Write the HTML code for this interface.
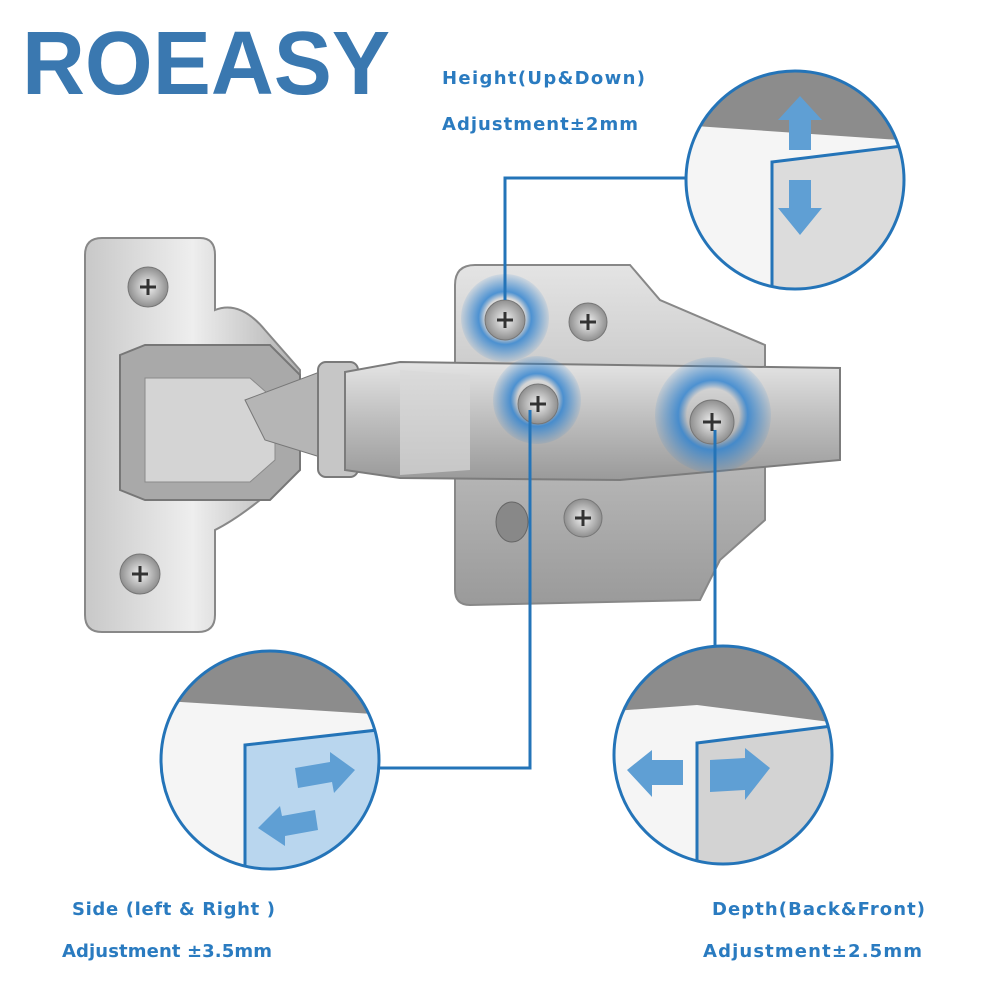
<!DOCTYPE html>
<html><head><meta charset="utf-8"><style>
body{margin:0;background:#fff;}
svg{display:block}
</style></head><body>
<svg width="1000" height="1000" viewBox="0 0 1000 1000" xmlns="http://www.w3.org/2000/svg">
<defs>
<clipPath id="c1"><circle cx="795" cy="180" r="109"/></clipPath>
<clipPath id="c2"><circle cx="270" cy="760" r="109"/></clipPath>
<clipPath id="c3"><circle cx="723" cy="755" r="109"/></clipPath>
<linearGradient id="m" x1="0" y1="0" x2="0" y2="1"><stop offset="0" stop-color="#e4e4e4"/><stop offset=".5" stop-color="#bdbdbd"/><stop offset="1" stop-color="#9a9a9a"/></linearGradient>
<linearGradient id="m2" x1="0" y1="0" x2="1" y2="0"><stop offset="0" stop-color="#c8c8c8"/><stop offset=".5" stop-color="#eeeeee"/><stop offset="1" stop-color="#b0b0b0"/></linearGradient>
<radialGradient id="sw"><stop offset=".45" stop-color="#1e70c0" stop-opacity="0"/><stop offset=".6" stop-color="#2a80d0" stop-opacity=".8"/><stop offset="1" stop-color="#2a80d0" stop-opacity=".1"/></radialGradient>
<radialGradient id="sc"><stop offset="0" stop-color="#f2f2f2"/><stop offset="1" stop-color="#8f8f8f"/></radialGradient>
</defs>
<text x="22" y="94" font-family="Liberation Sans,sans-serif" font-weight="bold" font-size="90" fill="#3a78b0" textLength="368" lengthAdjust="spacingAndGlyphs">ROEASY</text>
<g font-family="DejaVu Sans,sans-serif" font-weight="bold" font-size="18" fill="#2a7bc0" lengthAdjust="spacingAndGlyphs">
<text x="442" y="84" textLength="203">Height(Up&amp;Down)</text>
<text x="442" y="130" textLength="196">Adjustment±2mm</text>
<text x="72" y="915" textLength="203">Side (left &amp; Right )</text>
<text x="62" y="957" textLength="210">Adjustment ±3.5mm</text>
<text x="712" y="915" textLength="213">Depth(Back&amp;Front)</text>
<text x="703" y="957" textLength="219">Adjustment±2.5mm</text>
</g>
<path d="M85 255 Q85 238 102 238 L200 238 Q215 238 215 255 L215 310 Q240 300 265 330 L300 370 L300 470 L260 500 Q235 520 215 530 L215 615 Q215 632 198 632 L102 632 Q85 632 85 615 Z" fill="url(#m2)" stroke="#888" stroke-width="2"/>
<path d="M120 355 L145 345 L270 345 L300 375 L300 470 L270 500 L145 500 L120 490 Z" fill="#a9a9a9" stroke="#777" stroke-width="2"/>
<path d="M145 378 L250 378 L275 400 L275 460 L250 482 L145 482 Z" fill="#d4d4d4" stroke="#8a8a8a"/>
<path d="M245 400 L325 370 L330 460 L265 440 Z" fill="#b5b5b5" stroke="#777"/>
<rect x="318" y="362" width="40" height="115" rx="8" fill="#c6c6c6" stroke="#7a7a7a" stroke-width="2"/>
<path d="M455 285 Q455 265 475 265 L630 265 L660 300 L765 345 L765 520 L720 560 L700 600 L470 605 Q455 605 455 590 Z" fill="url(#m)" stroke="#888" stroke-width="2"/>
<path d="M345 372 L400 362 L840 368 L840 460 L620 480 L400 478 L345 470 Z" fill="url(#m)" stroke="#7c7c7c" stroke-width="2"/>
<path d="M400 370 L470 375 L470 470 L400 475 Z" fill="#d9d9d9" opacity=".7"/>
<circle cx="148" cy="287" r="20" fill="url(#sc)" stroke="#777"/>
<circle cx="140" cy="574" r="20" fill="url(#sc)" stroke="#777"/>
<circle cx="588" cy="322" r="19" fill="url(#sc)" stroke="#777"/>
<circle cx="583" cy="518" r="19" fill="url(#sc)" stroke="#777"/>
<ellipse cx="512" cy="522" rx="16" ry="20" fill="#888" stroke="#666"/>
<g fill="url(#sw)"><circle cx="505" cy="318" r="44"/><circle cx="537" cy="400" r="44"/><circle cx="713" cy="415" r="58"/></g>
<g fill="url(#sc)" stroke="#777"><circle cx="505" cy="320" r="20"/><circle cx="538" cy="404" r="20"/><circle cx="712" cy="422" r="22"/></g>
<g stroke="#333" stroke-width="3"><path d="M497 320h16M505 312v16M530 404h16M538 396v16M703 422h18M712 413v18"/><path d="M140 287h16M148 279v16M132 574h16M140 566v16M580 322h16M588 314v16M575 518h16M583 510v16"/></g>
<g fill="none" stroke="#2474b8" stroke-width="3">
<path d="M505 300 V178 H688"/>
<path d="M530 410 V768 H380"/>
<path d="M715 430 V646"/>
</g>
<g clip-path="url(#c1)">
<rect x="680" y="60" width="230" height="240" fill="#8c8c8c"/>
<path d="M680 125 L900 140 L900 300 L680 300 Z" fill="#f5f5f5"/>
<path d="M772 162 L910 145 L910 300 L772 300 Z" fill="#dcdcdc" stroke="#2474b8" stroke-width="3"/>
<path d="M800 96 L822 120 L811 120 L811 150 L789 150 L789 120 L778 120 Z" fill="#5f9fd4"/>
<path d="M800 235 L822 208 L811 208 L811 180 L789 180 L789 208 L778 208 Z" fill="#5f9fd4"/>
</g>
<circle cx="795" cy="180" r="109" fill="none" stroke="#2474b8" stroke-width="3"/>
<g clip-path="url(#c2)">
<rect x="150" y="640" width="240" height="240" fill="#8c8c8c"/>
<path d="M150 700 L390 715 L390 880 L150 880 Z" fill="#f5f5f5"/>
<path d="M245 745 L395 728 L395 890 L245 890 Z" fill="#b9d6ee" stroke="#2474b8" stroke-width="3"/>
<path d="M355 770 L330 752 L330 762 L295 768 L298 788 L332 782 L334 793 Z" fill="#5f9fd4"/>
<path d="M258 828 L285 846 L285 836 L318 830 L315 810 L282 816 L280 806 Z" fill="#5f9fd4"/>
</g>
<circle cx="270" cy="760" r="109" fill="none" stroke="#2474b8" stroke-width="3"/>
<g clip-path="url(#c3)">
<rect x="600" y="640" width="240" height="240" fill="#8c8c8c"/>
<path d="M600 712 L697 705 L830 722 L830 880 L600 880 Z" fill="#f5f5f5"/>
<path d="M697 743 L840 725 L840 890 L697 890 Z" fill="#d3d3d3" stroke="#2474b8" stroke-width="3"/>
<path d="M627 770 L652 750 L652 760 L683 760 L683 785 L652 785 L652 797 Z" fill="#5f9fd4"/>
<path d="M770 768 L745 748 L745 758 L710 760 L710 792 L745 790 L745 800 Z" fill="#5f9fd4"/>
</g>
<circle cx="723" cy="755" r="109" fill="none" stroke="#2474b8" stroke-width="3"/>
</svg>
</body></html>
